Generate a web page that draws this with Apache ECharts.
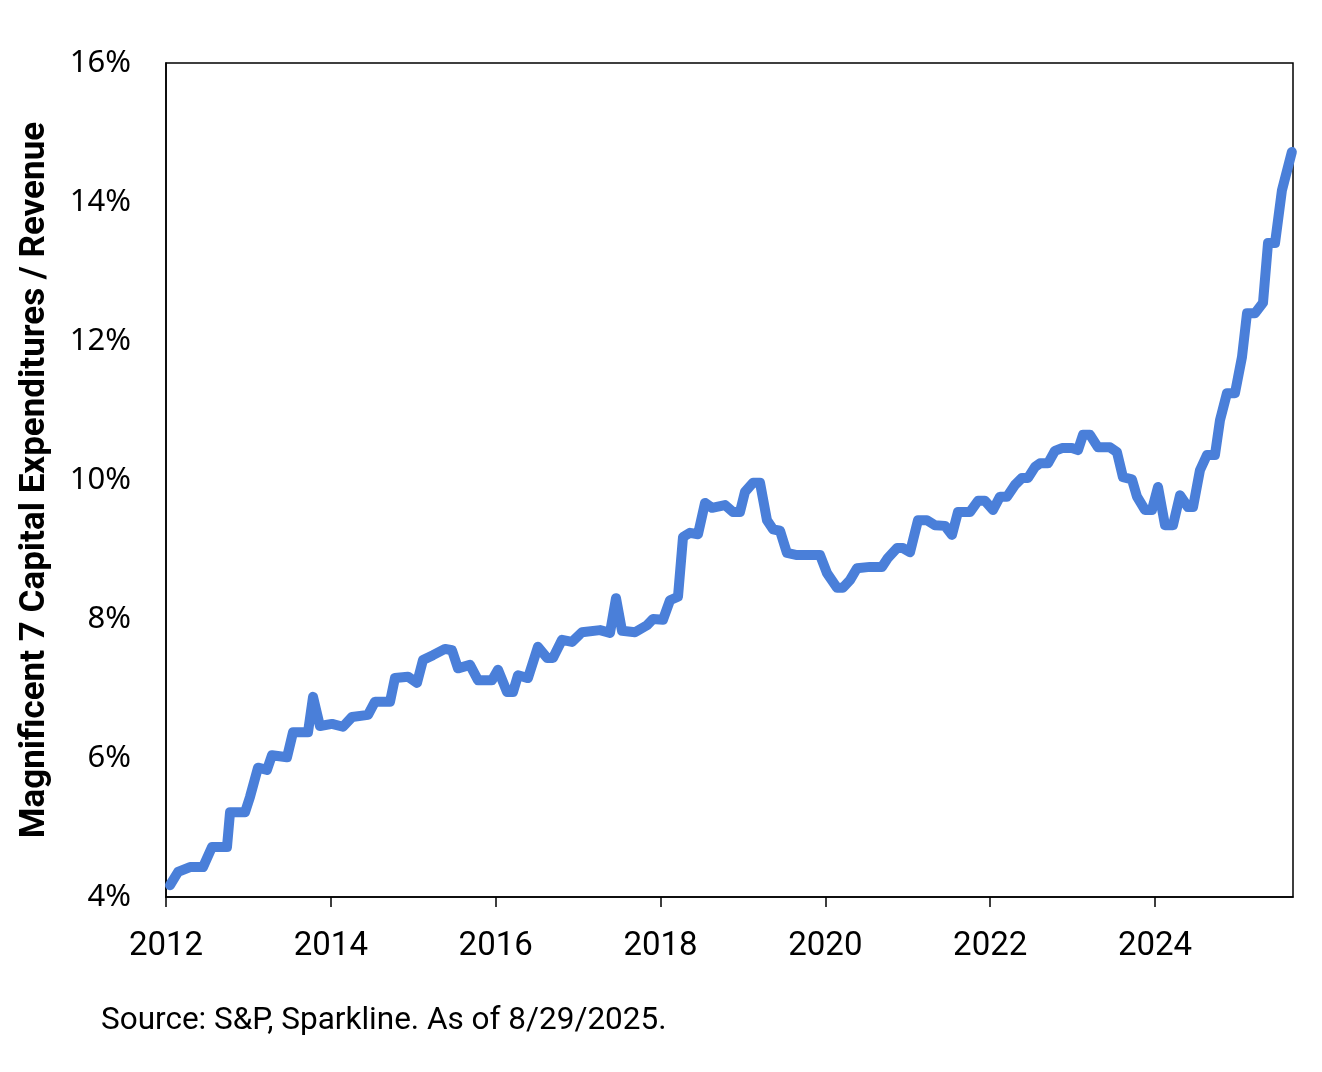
<!DOCTYPE html>
<html>
<head>
<meta charset="utf-8">
<script src="https://cdn.jsdelivr.net/npm/echarts@6/dist/echarts.min.js"></script>
<style>
  html, body { margin: 0; padding: 0; background: #ffffff; }
  #chart { width: 1322px; height: 1072px; }
</style>
</head>
<body>
<div id="chart"></div>
<script>
// Decimal years (2012.0 = start of 2012)
const years = [
  2012.049, 2012.146, 2012.291, 2012.449, 2012.558, 2012.740, 2012.777, 2012.959,
  2013.019, 2013.116, 2013.225, 2013.286, 2013.468, 2013.541, 2013.723, 2013.784,
  2013.868, 2014.014, 2014.148, 2014.257, 2014.451, 2014.536, 2014.718, 2014.778,
  2014.936, 2015.045, 2015.118, 2015.239, 2015.385, 2015.470, 2015.543, 2015.688,
  2015.785, 2015.955, 2016.028, 2016.137, 2016.210, 2016.271, 2016.392, 2016.513,
  2016.623, 2016.695, 2016.805, 2016.926, 2017.047, 2017.266, 2017.387, 2017.460,
  2017.533, 2017.690, 2017.836, 2017.909, 2018.030, 2018.115, 2018.212, 2018.273,
  2018.358, 2018.455, 2018.540, 2018.625, 2018.782, 2018.879, 2018.964, 2019.025,
  2019.122, 2019.207, 2019.292, 2019.365, 2019.450, 2019.534, 2019.656, 2019.935,
  2020.020, 2020.141, 2020.214, 2020.299, 2020.384, 2020.541, 2020.687, 2020.760,
  2020.869, 2020.942, 2021.027, 2021.124, 2021.233, 2021.330, 2021.452, 2021.536,
  2021.609, 2021.755, 2021.852, 2021.937, 2022.034, 2022.119, 2022.204, 2022.301,
  2022.386, 2022.459, 2022.544, 2022.604, 2022.701, 2022.786, 2022.871, 2022.992,
  2023.065, 2023.126, 2023.211, 2023.308, 2023.454, 2023.538, 2023.611, 2023.720,
  2023.781, 2023.878, 2023.963, 2024.036, 2024.121, 2024.218, 2024.303, 2024.400,
  2024.461, 2024.545, 2024.630, 2024.727, 2024.788, 2024.873, 2024.970, 2025.055,
  2025.116, 2025.213, 2025.310, 2025.371, 2025.456, 2025.540, 2025.660
];
// Magnificent 7 capex / revenue, %
const capexRatio = [
  4.17, 4.36, 4.43, 4.43, 4.72, 4.72, 5.22, 5.22,
  5.44, 5.86, 5.83, 6.04, 6.01, 6.37, 6.37, 6.88,
  6.46, 6.49, 6.45, 6.59, 6.62, 6.81, 6.81, 7.15,
  7.17, 7.08, 7.41, 7.48, 7.57, 7.55, 7.29, 7.34,
  7.12, 7.12, 7.27, 6.95, 6.95, 7.19, 7.15, 7.60,
  7.44, 7.44, 7.70, 7.67, 7.81, 7.84, 7.80, 8.30,
  7.83, 7.81, 7.91, 8.00, 7.99, 8.27, 8.32, 9.18,
  9.24, 9.22, 9.67, 9.60, 9.64, 9.54, 9.54, 9.83,
  9.96, 9.96, 9.42, 9.29, 9.27, 8.95, 8.92, 8.92,
  8.66, 8.45, 8.45, 8.56, 8.73, 8.75, 8.75, 8.88,
  9.02, 9.02, 8.96, 9.42, 9.42, 9.35, 9.34, 9.21,
  9.54, 9.54, 9.70, 9.70, 9.57, 9.76, 9.76, 9.93,
  10.03, 10.03, 10.19, 10.24, 10.24, 10.42, 10.46, 10.46,
  10.43, 10.65, 10.65, 10.47, 10.47, 10.40, 10.04, 10.01,
  9.76, 9.57, 9.57, 9.90, 9.35, 9.35, 9.78, 9.61,
  9.61, 10.14, 10.36, 10.36, 10.86, 11.25, 11.25, 11.77,
  12.40, 12.40, 12.55, 13.41, 13.41, 14.17, 14.72
];
const xTickYears = [2012, 2014, 2016, 2018, 2020, 2022, 2024];
const yTicks = [4, 6, 8, 10, 12, 14, 16];
const yTitle = 'Magnificent 7 Capital Expenditures / Revenue';
const sourceNote = 'Source: S&P, Sparkline. As of 8/29/2025.';

const labelFont = "Roboto, 'Noto Sans', sans-serif";

const chart = echarts.init(document.getElementById('chart'), null, { renderer: 'canvas' });
chart.setOption({
  animation: false,
  backgroundColor: '#ffffff',
  grid: {
    left: 166, right: 29, top: 63, bottom: 175,
    show: true, borderColor: '#000000', borderWidth: 1.5, backgroundColor: 'transparent'
  },
  xAxis: {
    type: 'value',
    min: 2012, max: 2025.674, interval: 2,
    axisLine: { show: true, lineStyle: { color: '#000', width: 1.5 } },
    axisTick: { show: true, length: 10, inside: false, lineStyle: { color: '#000', width: 1.5 }, customValues: xTickYears },
    axisLabel: {
      customValues: xTickYears,
      margin: 33,
      color: '#000', fontSize: 33, fontFamily: labelFont,
      formatter: v => String(Math.round(v))
    },
    splitLine: { show: false }
  },
  yAxis: {
    type: 'value',
    min: 4, max: 16, interval: 2,
    name: yTitle,
    nameLocation: 'middle',
    nameGap: 113,
    nameTextStyle: { color: '#000', fontSize: 35, fontWeight: 'bold', fontFamily: labelFont },
    axisLine: { show: true, lineStyle: { color: '#000', width: 1.5 } },
    axisTick: { show: false },
    axisLabel: {
      margin: 35, color: '#000', fontSize: 31, fontFamily: "'Noto Sans', sans-serif",
      formatter: v => v + '%'
    },
    splitLine: { show: false }
  },
  graphic: [{
    type: 'text', left: 101, top: 1005,
    style: { text: sourceNote, fill: '#000', fontSize: 31.5, fontFamily: labelFont }
  }],
  series: [{
    type: 'line',
    data: years.map((y, i) => [y, capexRatio[i]]),
    showSymbol: false,
    symbol: 'none',
    smooth: false,
    clip: true,
    lineStyle: { color: '#4a7fd9', width: 10, cap: 'round', join: 'round' }
  }]
});
</script>
</body>
</html>
